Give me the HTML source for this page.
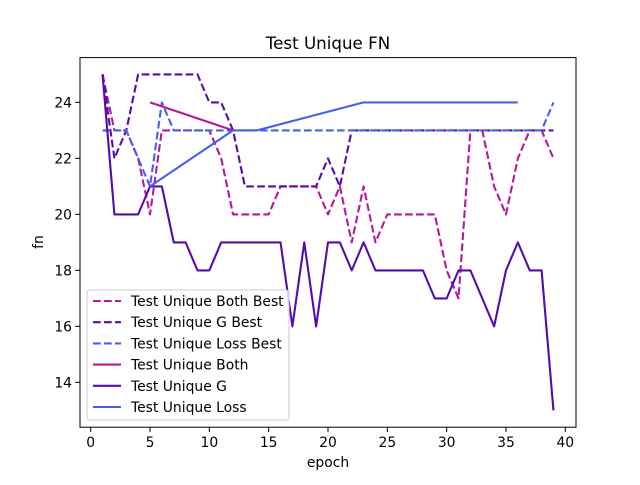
<!DOCTYPE html>
<html><head><meta charset="utf-8"><style>
body{margin:0;background:#fff}
svg text{font-family:"DejaVu Sans","Liberation Sans",sans-serif;fill:#000}
</style></head><body>
<svg id="chart" width="640" height="480">
<rect width="640" height="480" fill="#fff"/>
<text x="328" y="49" font-size="16.7" text-anchor="middle">Test Unique FN</text>
<g id="plot"></g>
<rect x="80" y="57.6" width="496" height="369.6" fill="none" stroke="#000" stroke-width="1"/>
<text x="328" y="467" font-size="13.9" text-anchor="middle">epoch</text>
<text transform="translate(43,242) rotate(-90)" font-size="13.9" text-anchor="middle">fn</text>
<g id="legend"></g>
</svg>
<script>
const epochs=[1,2,3,4,5,6,7,8,9,10,11,12,13,14,15,16,17,18,19,20,21,22,23,24,25,26,27,28,29,30,31,32,33,34,35,36,37,38,39];
const bothBest=[25,23,23,22,20,23,23,23,23,23,22,20,20,20,20,21,21,21,21,20,21,19,21,19,20,20,20,20,20,18,17,23,23,21,20,22,23,23,22];
const gBest=[25,22,23,25,25,25,25,25,25,24,24,23,21,21,21,21,21,21,21,22,21,23,23,23,23,23,23,23,23,23,23,23,23,23,23,23,23,23,23];
const lossBest=[23,23,23,22,21,24,23,23,23,23,23,23,23,23,23,23,23,23,23,23,23,23,23,23,23,23,23,23,23,23,23,23,23,23,23,23,23,23,24];
const bothX=[5,12];
const bothY=[24,23];
const gY=[25,20,20,20,21,21,19,19,18,18,19,19,19,19,19,19,16,19,16,19,19,18,19,18,18,18,18,18,17,17,18,18,17,16,18,19,18,18,13];
const lossX=[5,12,14,23,36];
const lossY=[21,23,23,24,24];
const xTicks=[0,5,10,15,20,25,30,35,40];
const yTicks=[14,16,18,20,22,24];
const legendLabels=["Test Unique Both Best","Test Unique G Best","Test Unique Loss Best","Test Unique Both","Test Unique G","Test Unique Loss"];
const NS="http://www.w3.org/2000/svg";
const sx=v=>80+(v+0.9)*496/41.8;
const sy=v=>427.2-(v-12.4)*369.6/13.2;
const plot=document.getElementById('plot');
const svg=document.getElementById('chart');
function mk(t,a,p){const e=document.createElementNS(NS,t);for(const k in a)e.setAttribute(k,a[k]);(p||plot).appendChild(e);return e;}
xTicks.forEach(t=>{
  const l=mk('line',{x1:sx(t),x2:sx(t),y1:427.2,y2:432,stroke:'#000'},svg);
  
  
  const tx=mk('text',{x:sx(t),y:447,'font-size':13.9,'text-anchor':'middle'},svg);tx.textContent=t;
  
  
});
yTicks.forEach(t=>{
  const l=mk('line',{x1:75.2,x2:80,y1:sy(t),y2:sy(t),stroke:'#000'},svg);
  
  
  const tx=mk('text',{x:72,y:sy(t)+5,'font-size':13.9,'text-anchor':'end'},svg);tx.textContent=t;
  
  
});
const C1='#b5179e',C2='#560bad',C3='#4361ee';
function line(xs,ys,col,dash,name){
  const p=mk('polyline',{points:xs.map((x,i)=>sx(x)+','+sy(ys[i])).join(' '),fill:'none',stroke:col,'stroke-width':2.1,'stroke-dasharray':dash?'7.7,3.3':'none','stroke-linejoin':'round'});
  
  
}
line(epochs,bothBest,C1,true,'both-best-line');
line(epochs,gBest,C2,true,'g-best-line');
line(epochs,lossBest,C3,true,'loss-best-line');
line(bothX,bothY,C1,false,'both-line');
line(epochs,gY,C2,false,'g-line');
line(lossX,lossY,C3,false,'loss-line');
const lg=document.getElementById('legend');
const box=mk('rect',{x:87,y:290,width:202,height:130,rx:3,fill:'#fff','fill-opacity':0.8,stroke:'#ccc'},lg);


const cols=[C1,C2,C3,C1,C2,C3];
legendLabels.forEach((s,i)=>{
  const y=301+i*21.2;
  mk('line',{x1:93,x2:121,y1:y,y2:y,stroke:cols[i],'stroke-width':2.1,'stroke-dasharray':i<3?'7.7,3.3':'none'},lg);
  const t=mk('text',{x:131,y:y+5,'font-size':13.9},lg);t.textContent=s;
  
  
});
</script>
</body></html>
